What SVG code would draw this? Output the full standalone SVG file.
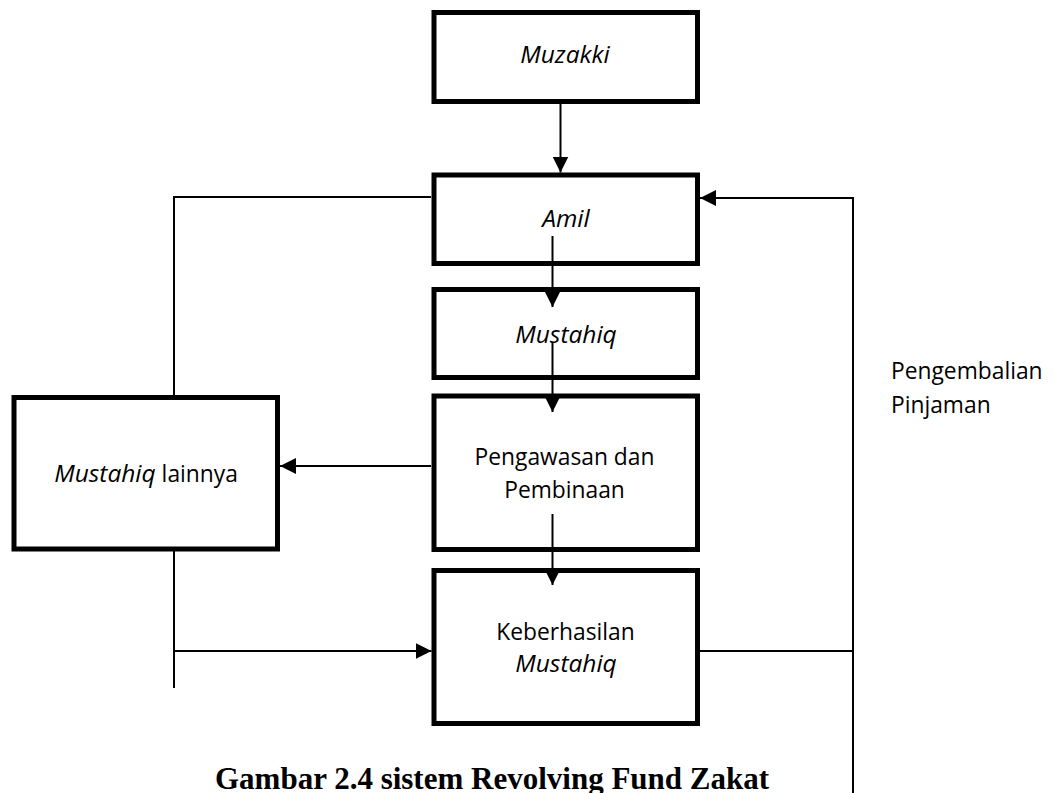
<svg xmlns="http://www.w3.org/2000/svg" width="1054" height="793" viewBox="0 0 1054 793">
<style>
.box{fill:#fff;stroke:#000;stroke-width:5}
.ln{fill:none;stroke:#000;stroke-width:2}
.t{font-family:"Open Sans","Liberation Sans",sans-serif;font-size:22.8px;fill:#000;text-anchor:middle}
.i{font-style:italic;font-size:24.5px}
.s{text-anchor:start}
.cap{font-family:"Liberation Serif","Times New Roman",serif;font-size:31px;font-weight:bold;fill:#000}
</style>
<defs>
<marker id="ah" markerUnits="userSpaceOnUse" markerWidth="16" markerHeight="16" viewBox="0 0 16 16" refX="16" refY="8" orient="auto">
<path d="M0,0 L16,8 L0,16 Z" fill="#000"/>
</marker>
</defs>
<rect width="1054" height="793" fill="#fff"/>
<g id="muzakki"><rect class="box" x="434" y="12.5" width="263.5" height="89"/><text class="t i" x="565" y="63">Muzakki</text></g>
<g id="amil"><rect class="box" x="434" y="175" width="263.5" height="88.5"/><text class="t i" x="566" y="227">Amil</text></g>
<g id="mustahiq"><rect class="box" x="434" y="289.5" width="263.5" height="88"/><text class="t i" x="566" y="342.5">Mustahiq</text></g>
<g id="pengawasan"><rect class="box" x="434" y="396" width="263.5" height="153.5"/><text class="t" x="564.5" y="465">Pengawasan dan</text><text class="t" x="564.5" y="498">Pembinaan</text></g>
<g id="keberhasilan"><rect class="box" x="434" y="570.5" width="263.5" height="153"/><text class="t" x="565.5" y="640">Keberhasilan</text><text class="t i" x="566" y="672">Mustahiq</text></g>
<g id="lainnya"><rect class="box" x="14" y="397.5" width="263.5" height="151.5"/><text class="t" x="146" y="482"><tspan class="i">Mustahiq</tspan> lainnya</text></g>
<g id="connectors">
<line class="ln" x1="560.5" y1="104" x2="560.5" y2="172.5" marker-end="url(#ah)"/>
<line class="ln" x1="552.5" y1="236" x2="552.5" y2="307" marker-end="url(#ah)"/>
<line class="ln" x1="552.5" y1="342" x2="552.5" y2="412" marker-end="url(#ah)"/>
<line class="ln" x1="552.5" y1="514" x2="552.5" y2="585" marker-end="url(#ah)"/>
<line class="ln" x1="431" y1="466" x2="280" y2="466" marker-end="url(#ah)"/>
<polyline class="ln" points="431,197 174,197 174,395"/>
<line class="ln" x1="174" y1="551" x2="174" y2="688"/>
<line class="ln" x1="174" y1="651" x2="431.5" y2="651" marker-end="url(#ah)"/>
<polyline class="ln" points="700,651 853,651"/>
<line class="ln" x1="853" y1="793" x2="853" y2="198"/>
<line class="ln" x1="854" y1="198" x2="700" y2="198" marker-end="url(#ah)"/>
</g>
<g id="label"><text class="t s" x="891" y="379">Pengembalian</text><text class="t s" x="891" y="413">Pinjaman</text></g>
<text class="cap" x="215" y="789">Gambar 2.4 sistem Revolving Fund Zakat</text>
</svg>
